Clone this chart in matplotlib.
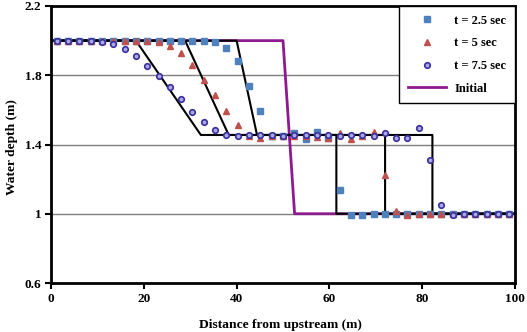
import matplotlib
matplotlib.use("Agg")
import matplotlib.pyplot as plt

# Grid of sample positions (m)
x_pts = [1.22, 3.66, 6.10, 8.54, 10.98, 13.41, 15.85, 18.29, 20.73, 23.17,
         25.61, 28.05, 30.49, 32.93, 35.37, 37.80, 40.24, 42.68, 45.12, 47.56,
         50.00, 52.44, 54.88, 57.32, 59.76, 62.20, 64.63, 67.07, 69.51, 71.95,
         74.39, 76.83, 79.27, 81.71, 84.15, 86.59, 89.02, 91.46, 93.90, 96.34,
         98.78]

h_t25 = [2.0, 2.0, 2.0, 2.0, 2.0, 2.0, 2.0, 2.0, 2.0, 2.0,
         2.0, 2.0, 2.0, 2.0, 1.99, 1.96, 1.88, 1.74, 1.595, 1.45,
         1.45, 1.465, 1.43, 1.47, 1.437, 1.14, 0.993, 0.995, 1.0, 1.0,
         1.0, 1.0, 1.0, 1.0, 1.0, 1.0, 1.0, 1.0, 1.0, 1.0,
         1.0]

h_t5 = [2.0, 2.0, 2.0, 2.0, 2.0, 2.0, 2.0, 2.0, 2.0, 1.99,
        1.97, 1.927, 1.86, 1.775, 1.685, 1.595, 1.51, 1.45, 1.44, 1.45,
        1.45, 1.45, 1.45, 1.445, 1.44, 1.465, 1.43, 1.45, 1.475, 1.225,
        1.015, 0.993, 1.0, 1.0, 1.0, 1.0, 1.0, 1.0, 1.0, 1.0,
        1.0]

h_t75 = [2.0, 2.0, 2.0, 2.0, 1.99, 1.98, 1.95, 1.91, 1.855, 1.795,
         1.73, 1.66, 1.59, 1.53, 1.485, 1.455, 1.45, 1.453, 1.453, 1.453,
         1.449, 1.453, 1.453, 1.455, 1.453, 1.449, 1.455, 1.453, 1.449, 1.465,
         1.44, 1.44, 1.495, 1.308, 1.05, 0.99, 1.0, 1.0, 1.0, 1.0,
         1.0]

# Initial condition
x_init = [0, 50, 52.5, 100]
h_init = [2.0, 2.0, 1.0, 1.0]

# Analytical solutions (head, tail, shock)
x_ana_25 = [0, 40.0, 44.4, 61.5, 61.5, 100]
x_ana_5 = [0, 28.9, 38.3, 72.0, 72.0, 100]
x_ana_75 = [0, 18.3, 32.3, 82.2, 82.2, 100]
h_ana = [2.0, 2.0, 1.455, 1.455, 1.0, 1.0]

xticks = [0, 20, 40, 60, 80, 100]
yticks = [0.6, 1.0, 1.4, 1.8, 2.2]
yticklabels = ["0.6", "1", "1.4", "1.8", "2.2"]

plt.rcParams['font.family'] = ['Liberation Serif', 'DejaVu Serif']
plt.rcParams['font.weight'] = 'bold'

fig = plt.figure(figsize=(5.27, 3.32), dpi=100)
ax = fig.add_axes([51/527, 1-283/332, (515-51)/527, (283-6)/332])

ax.set_xlim(0, 100)
ax.set_ylim(0.6, 2.2)
ax.set_yticks(yticks)
ax.set_yticklabels(yticklabels)
ax.set_xticks(xticks)
for yv in [1.0, 1.4, 1.8]:
    ax.axhline(yv, color='#7f7f7f', lw=1.0, zorder=0)

ax.plot(x_init, h_init, color='#8E1A8E', lw=2.0, zorder=2, label='Initial')
for xa in (x_ana_25, x_ana_5, x_ana_75):
    ax.plot(xa, h_ana, color='black', lw=1.5, zorder=3)

ax.plot(x_pts, h_t25, ls='none', marker='s', ms=4.5, mfc='#4F81BD',
        mec='#4F81BD', zorder=4, label='t = 2.5 sec')
ax.plot(x_pts, h_t5, ls='none', marker='^', ms=5, mfc='#C0504D',
        mec='#C0504D', zorder=5, label='t = 5 sec')
ax.plot(x_pts, h_t75, ls='none', marker='o', ms=4.0, mfc='#a8a8e6',
        mec='#3a2f9c', mew=1.2, zorder=6, label='t = 7.5 sec')

for s in ax.spines.values():
    s.set_linewidth(2.0)
    s.set_color('black')
ax.tick_params(direction='out', length=4, width=1.5, labelsize=9.5, pad=3)
for lab in ax.get_xticklabels() + ax.get_yticklabels():
    lab.set_fontweight('bold')

ax.set_xlabel('Distance from upstream (m)', fontsize=9.7, fontweight='bold',
              va='center')
ax.set_ylabel('Water depth (m)', fontsize=9.7, fontweight='bold',
              va='center', ha='center')
ax.xaxis.set_label_coords((280 - 51) / 464, (283 - 325) / 277)
ax.yaxis.set_label_coords((12 - 51) / 464, 0.49)

h, l = ax.get_legend_handles_labels()
order = [1, 2, 3, 0]
leg = ax.legend([h[i] for i in order], [l[i] for i in order],
                loc='upper right', bbox_to_anchor=(1.0, 1.0), borderaxespad=0,
                fancybox=False, edgecolor='black', framealpha=1,
                prop={'family': 'Liberation Serif', 'weight': 'bold', 'size': 9},
                handlelength=3.0, handletextpad=0.7, labelspacing=0.85,
                borderpad=0.7)
leg.get_frame().set_linewidth(1.0)
leg.set_zorder(10)

fig.savefig('out.png', dpi=100)
